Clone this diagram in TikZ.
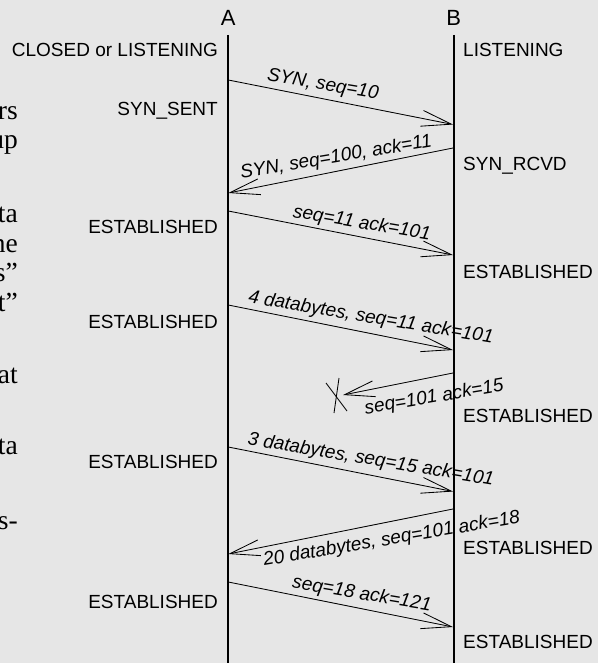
\documentclass[tikz,border=0pt]{standalone}
\usepackage{fontspec}
\newfontfamily\helv{Liberation Sans}
\newfontfamily\bookserif[Ligatures=TeX]{Liberation Serif}
\usetikzlibrary{arrows.meta,calc}
\definecolor{bgray}{RGB}{230,230,230}
\tikzset{
  lifeline/.style={line width=1.9pt, black},
  msg/.style={line width=0.85pt, -{Straight Barb[length=30pt,width=16pt,line width=0.85pt]}},
  statel/.style={font=\helv\fontsize{19}{22}\selectfont, anchor=base east, inner sep=0pt},
  stater/.style={font=\helv\fontsize{19}{22}\selectfont, anchor=base west, inner sep=0pt},
  msglabel/.style={font=\helv\itshape\fontsize{19}{22}\selectfont, anchor=base, inner sep=0pt},
  party/.style={font=\helv\fontsize{22}{26}\selectfont, anchor=base, inner sep=0pt},
  frag/.style={font=\bookserif\fontsize{27.5}{30}\selectfont, anchor=base east, inner sep=0pt},
  crossmark/.style={line width=0.85pt},
}
\begin{document}
\begin{tikzpicture}[x=1pt,y=-1pt]
\fill[bgray] (0,0) rectangle (598,663);
\useasboundingbox (0,0) rectangle (598,663);

% fragments of neighbouring text
\begin{scope}
\clip (0,0) rectangle (598,663);
\node[frag] (f1) at (18,120) {rs};
\node[frag] (f2) at (18,148.5) {up};
\node[frag] (f3) at (18,222) {ta};
\node[frag] (f4) at (18,252) {ne};
\node[frag] (f5) at (18,281.5) {s''};
\node[frag] (f6) at (18,311) {t''};
\node[frag] (f7) at (18,383) {at};
\node[frag] (f8) at (18,454) {ta};
\node[frag] (f9) at (18,529) {s-};
\end{scope}

% parties
\node[party] (A) at (228.3,26) {A};
\node[party] (B) at (453.7,26) {B};
\coordinate (Atop) at (228.3,35);
\coordinate (Abot) at (228.3,663);
\coordinate (Btop) at (453.7,35);
\coordinate (Bbot) at (453.7,663);
\draw[lifeline] (Atop) -- (Abot);
\draw[lifeline] (Btop) -- (Bbot);

% states
\node[statel] (sA0) at (218,57) {CLOSED or LISTENING};
\node[statel] (sA1) at (218,116) {SYN\_SENT};
\node[statel] (sA2) at (218,233) {ESTABLISHED};
\node[statel] (sA3) at (218,328) {ESTABLISHED};
\node[statel] (sA4) at (218,468) {ESTABLISHED};
\node[statel] (sA5) at (218,608) {ESTABLISHED};
\node[stater] (sB0) at (463,57) {LISTENING};
\node[stater] (sB1) at (463,171) {SYN\_RCVD};
\node[stater] (sB2) at (463,278) {ESTABLISHED};
\node[stater] (sB3) at (463,422) {ESTABLISHED};
\node[stater] (sB4) at (463,554) {ESTABLISHED};
\node[stater] (sB5) at (463,648) {ESTABLISHED};

% message end points
\coordinate (a1) at (228.3,80);   \coordinate (b1) at (453,124.5);
\coordinate (b2) at (453,148);    \coordinate (a2) at (228.3,193);
\coordinate (a3) at (228.3,211);  \coordinate (b3) at (453,255);
\coordinate (a4) at (228.3,305);  \coordinate (b4) at (453,350);
\coordinate (b5) at (453,373);    \coordinate (lost) at (343,395);
\coordinate (a6) at (228.3,447);  \coordinate (b6) at (453,491.5);
\coordinate (b7) at (453,509);    \coordinate (a7) at (228.3,554);
\coordinate (a8) at (228.3,582);  \coordinate (b8) at (453,627);

\draw[msg] (a1) -- (b1);
\draw[msg] (b2) -- (a2);
\draw[msg] (a3) -- (b3);
\draw[msg] (a4) -- (b4);
\draw[msg] (b5) -- (lost);
\draw[msg] (a6) -- (b6);
\draw[msg] (b7) -- (a7);
\draw[msg] (a8) -- (b8);

% lost-segment cross
\coordinate (x1s) at (326,383); \coordinate (x1e) at (347,411);
\coordinate (x2s) at (339,378); \coordinate (x2e) at (334,413);
\draw[crossmark] (x1s) -- (x1e);
\draw[crossmark] (x2s) -- (x2e);

% message labels
\node[msglabel, rotate=-9.5] (m1) at (322,90) {SYN, seq=10};
\node[msglabel, rotate=9.5] (m2) at (337,162.5) {SYN, seq=100, ack=11};
\node[msglabel, rotate=-9.5] (m3) at (361,228.5) {seq=11 ack=101};
\node[msglabel, rotate=-9.5] (m4) at (370,323) {4 databytes, seq=11 ack=101};
\node[msglabel, rotate=9.5] (m5) at (435,402.5) {seq=101 ack=15};
\node[msglabel, rotate=-9.5] (m6) at (370,465) {3 databytes, seq=15 ack=101};
\node[msglabel, rotate=9.5] (m7) at (392.5,544.5) {20 databytes, seq=101 ack=18};
\node[msglabel, rotate=-9.5] (m8) at (361,599.5) {seq=18 ack=121};
\end{tikzpicture}
\end{document}
